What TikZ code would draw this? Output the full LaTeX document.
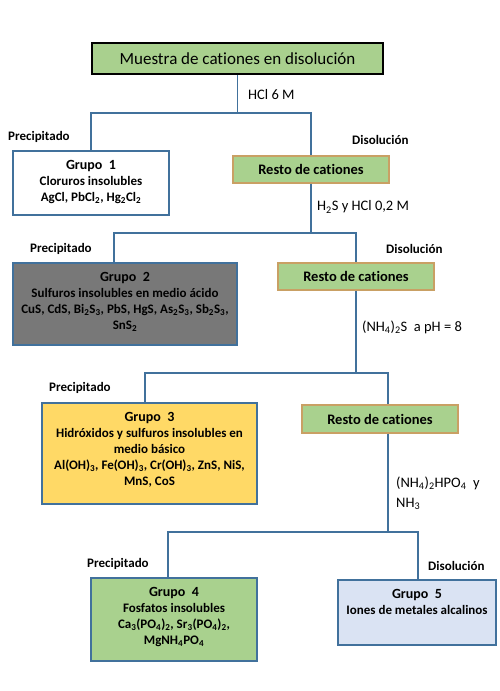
\documentclass[tikz,border=0pt]{standalone}
\usepackage{fontspec}
\setmainfont[Ligatures={NoCommon}]{Carlito}
\definecolor{lineblue}{HTML}{41719C}
\definecolor{topgreen}{HTML}{A9D08E}
\definecolor{restogreen}{HTML}{A9D18E}
\definecolor{restoborder}{HTML}{C9A064}
\definecolor{grupogray}{HTML}{787878}
\definecolor{grupoyellow}{HTML}{FFD966}
\definecolor{grupogreen}{HTML}{A9D18E}
\definecolor{grupoblue}{HTML}{DAE3F3}
\newcommand{\sbx}[1]{\textsubscript{#1}}
\newcommand{\gbox}[3]{\parbox[c][#2][t]{#1}{\centering\fontsize{13}{16}\selectfont\bfseries\rule{0pt}{18.5pt}#3}}
\newcommand{\gtitle}[1]{{\fontsize{14}{16}\selectfont Grupo\ \ #1}\\}
\begin{document}
\begin{tikzpicture}[x=1pt,y=-1pt,
  conn/.style={draw=lineblue,line width=1.6pt},
  grupobox/.style={draw=lineblue,line width=1.4pt,inner sep=0pt},
  restobox/.style={draw=restoborder,fill=restogreen,line width=1.3pt,minimum width=156pt,minimum height=27pt,inner sep=0pt,font=\fontsize{14.5}{17}\selectfont\bfseries},
  lbl/.style={inner sep=0pt,anchor=west,font=\fontsize{13}{15}\selectfont\bfseries},
  reag/.style={inner sep=0pt,anchor=west,align=left,font=\fontsize{14.5}{20}\selectfont}]
\useasboundingbox (0,0) rectangle (500,691);
\fill[white] (0,0) rectangle (500,691);

% boxes
\node[draw=black,fill=topgreen,line width=1.8pt,minimum width=291pt,minimum height=31pt,inner sep=0pt,font=\fontsize{17}{20}\selectfont] (top) at (237.5,58.5) {Muestra de cationes en disolución};

\node[grupobox,fill=white] (g1) at (91,183) {\gbox{156pt}{64pt}{\gtitle{1}Cloruros insolubles\\AgCl, PbCl\sbx{2}, Hg\sbx{2}Cl\sbx{2}}};
\node[restobox] (r1) at (311,169.5) {Resto de cationes};

\node[grupobox,fill=grupogray] (g2) at (125,304) {\gbox{224pt}{82pt}{\gtitle{2}Sulfuros insolubles en medio ácido\\CuS, CdS, Bi\sbx{2}S\sbx{3}, PbS, HgS, As\sbx{2}S\sbx{3}, Sb\sbx{2}S\sbx{3},\\SnS\sbx{2}}};
\node[restobox] (r2) at (356,276.5) {Resto de cationes};

\node[grupobox,fill=grupoyellow] (g3) at (149.5,453.5) {\gbox{215pt}{101pt}{\gtitle{3}Hidróxidos y sulfuros insolubles en\\medio básico\\Al(OH)\sbx{3}, Fe(OH)\sbx{3}, Cr(OH)\sbx{3}, ZnS, NiS,\\MnS, CoS}};
\node[restobox,minimum height=28pt] (r3) at (380,419) {Resto de cationes};

\node[grupobox,fill=grupogreen] (g4) at (174,619.5) {\gbox{166pt}{83pt}{\gtitle{4}Fosfatos insolubles\\Ca\sbx{3}(PO\sbx{4})\sbx{2}, Sr\sbx{3}(PO\sbx{4})\sbx{2},\\MgNH\sbx{4}PO\sbx{4}}};
\node[grupobox,fill=grupoblue] (g5) at (417,612.5) {\gbox{158pt}{65pt}{\gtitle{5}Iones de metales alcalinos}};

% junctions
\coordinate (j1) at (237.5,113);
\coordinate (j2) at (311,233);
\coordinate (j3) at (356,373);
\coordinate (j4) at (388,532);

% connectors
\draw[conn] (top.south) -- (j1);
\draw[conn] (g1.north) |- (j1) -| (r1.north);
\draw[conn] (r1.south) -- (j2);
\draw[conn] ([xshift=-11pt]g2.north) |- (j2) -| (r2.north);
\draw[conn] (r2.south) -- (j3);
\draw[conn] ([xshift=-4.5pt]g3.north) |- (j3) -| ([xshift=8pt]r3.north);
\draw[conn] ([xshift=8pt]r3.south) -- (j4);
\draw[conn] ([xshift=-6pt]g4.north) |- (j4) -| ([xshift=1pt]g5.north);

% labels
\node[reag] (l1) at (248,95) {HCl 6 M};
\node[lbl] (p1) at (8,137) {Precipitado};
\node[lbl] (d1) at (352,140) {Disolución};
\node[reag] (l2) at (317,207) {H\sbx{2}S y HCl 0,2 M};
\node[lbl] (p2) at (30,249) {Precipitado};
\node[lbl] (d2) at (386,249) {Disolución};
\node[reag] (l3) at (362,327) {(NH\sbx{4})\sbx{2}S\ \ a pH = 8};
\node[lbl] (p3) at (49,388) {Precipitado};
\node[reag] (l4) at (396,493) {(NH\sbx{4})\sbx{2}HPO\sbx{4}\ \ y\\NH\sbx{3}};
\node[lbl] (p4) at (87,564) {Precipitado};
\node[lbl] (d4) at (428,566) {Disolución};
\end{tikzpicture}
\end{document}
